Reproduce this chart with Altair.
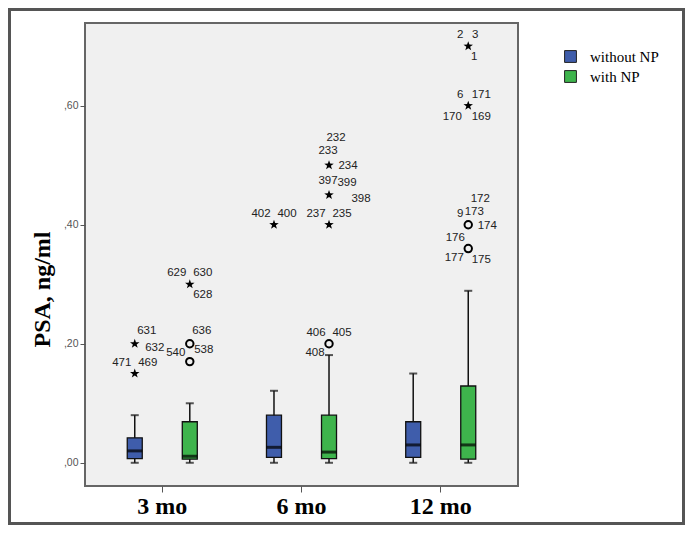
import altair as alt
import pandas as pd

# ---------------- data ----------------
months = ["3 mo", "6 mo", "12 mo"]
groups = ["without NP", "with NP"]
group_colors = ["#3f5dab", "#3eb44c"]

box_month = ["3 mo", "3 mo", "6 mo", "6 mo", "12 mo", "12 mo"]
box_group = ["without NP", "with NP", "without NP", "with NP", "without NP", "with NP"]
whisker_low = [0.000, 0.000, 0.000, 0.000, 0.000, 0.000]
q1 = [0.007, 0.006, 0.009, 0.007, 0.009, 0.006]
median = [0.020, 0.011, 0.026, 0.018, 0.030, 0.030]
q3 = [0.042, 0.069, 0.080, 0.080, 0.069, 0.129]
whisker_high = [0.080, 0.100, 0.121, 0.181, 0.150, 0.289]

out_month = ["3 mo", "3 mo", "3 mo", "3 mo", "3 mo", "6 mo", "6 mo", "6 mo",
             "6 mo", "6 mo", "12 mo", "12 mo", "12 mo", "12 mo"]
out_group = ["without NP", "without NP", "with NP", "with NP", "with NP",
             "without NP", "with NP", "with NP", "with NP", "with NP",
             "with NP", "with NP", "with NP", "with NP"]
out_value = [0.20, 0.15, 0.30, 0.20, 0.17, 0.40, 0.40, 0.45, 0.50, 0.20,
             0.70, 0.60, 0.40, 0.36]
out_kind = ["star", "star", "star", "circle", "circle", "star", "star", "star",
            "star", "circle", "star", "star", "circle", "circle"]

lab_text = ["631", "632", "471", "469", "629", "630", "628", "636", "540", "538",
            "402", "400", "237", "235", "397", "399", "398", "233", "234", "232",
            "406", "405", "408",
            "2", "3", "1", "6", "171", "170", "169",
            "172", "9", "173", "174", "176", "177", "175"]
lab_month = ["3 mo"] * 10 + ["6 mo"] * 13 + ["12 mo"] * 14
lab_group = ["without NP"] * 4 + ["with NP"] * 6 + ["without NP"] * 2 + ["with NP"] * 11 + ["with NP"] * 14
lab_value = [0.20, 0.20, 0.15, 0.15, 0.30, 0.30, 0.30, 0.20, 0.20, 0.20,
             0.40, 0.40, 0.40, 0.40, 0.45, 0.45, 0.45, 0.50, 0.50, 0.50,
             0.20, 0.20, 0.20,
             0.70, 0.70, 0.70, 0.60, 0.60, 0.60, 0.60,
             0.40, 0.40, 0.40, 0.40, 0.36, 0.36, 0.36]
lab_slot = ["urh", "r3", "ul", "ur", "ul", "ur", "lr", "urh", "ll", "r5",
            "ul", "ur", "ul", "ur", "u", "ur2", "rr", "u", "r", "uu",
            "ul", "ur", "ll",
            "ul1", "ur1", "lr1", "ul1", "ur", "ll2", "lr",
            "uu2", "ul1", "ur3", "r", "ul", "ll", "lr"]

# label placement around the outlier symbol (pixels)
slot_offsets = {
    "ul": (-13, -11), "ur": (13, -11), "r": (19, 1), "lr": (13, 11),
    "ll": (-14, 9), "u": (-1, -14), "uu": (7, -27), "rr": (32, 4),
    "ur2": (18, -12), "ul1": (-8, -11), "ur1": (7, -11), "lr1": (6, 11),
    "ll2": (-16, 11), "uu2": (12, -26), "ur3": (6, -13),
    "urh": (12, -13), "r3": (20, 4), "r5": (14, 6),
}

boxes = pd.DataFrame({"month": box_month, "group": box_group, "lo": whisker_low,
                      "q1": q1, "med": median, "q3": q3, "hi": whisker_high})
outs = pd.DataFrame({"month": out_month, "group": out_group, "value": out_value,
                     "kind": out_kind})
labs = pd.DataFrame({"month": lab_month, "group": lab_group, "value": lab_value,
                     "text": lab_text, "slot": lab_slot})

# ---------------- encodings ----------------
ydom = [-0.039, 0.739]
X = alt.X("month:N", sort=months,
          scale=alt.Scale(domain=months, paddingOuter=0.055, paddingInner=0),
          axis=alt.Axis(title=None, labelAngle=0, labelFont="Liberation Serif",
                        labelFontSize=24, labelFontWeight="bold", labelColor="black",
                        tickSize=6, tickColor="#555", tickWidth=1, domain=False,
                        labelPadding=2))
XO = alt.XOffset("group:N", sort=groups,
                 scale=alt.Scale(domain=groups, paddingOuter=0.265, paddingInner=0))


def Y(field):
    return alt.Y(field, scale=alt.Scale(domain=ydom, nice=False, zero=False),
                 axis=alt.Axis(values=[0, 0.2, 0.4, 0.6],
                               labelExpr="replace(format(datum.value, '.2f'), '0.', ',')",
                               grid=False, domain=False, tickSize=5, tickColor="#555",
                               labelColor="#555", labelFont="Liberation Sans",
                               labelFontSize=10.5, labelPadding=2,
                               title="PSA, ng/ml", titleFont="Liberation Serif",
                               titleFontSize=24, titleFontWeight="bold",
                               titleColor="black", titleAngle=270, titleX=-43,
                               titleY=266, titleAlign="center",
                               titleBaseline="middle"))


whisk = alt.Chart(boxes).mark_rule(color="#111", strokeWidth=1.5).encode(
    x=X, xOffset=XO, y=Y("lo:Q"), y2="hi:Q")
cap_lo = alt.Chart(boxes).mark_tick(color="#111", size=8, thickness=2).encode(
    x=X, xOffset=XO, y=Y("lo:Q"))
cap_hi = alt.Chart(boxes).mark_tick(color="#111", size=8, thickness=2).encode(
    x=X, xOffset=XO, y=Y("hi:Q"))
box = alt.Chart(boxes).mark_bar(size=15, stroke="#111", strokeWidth=1.3).encode(
    x=X, xOffset=XO, y=Y("q1:Q"), y2="q3:Q",
    color=alt.Color("group:N", sort=groups,
                    scale=alt.Scale(domain=groups, range=group_colors),
                    legend=alt.Legend(title=None, orient="none", legendX=478,
                                      legendY=26, symbolType="square",
                                      symbolSize=140, symbolStrokeColor="#222",
                                      symbolStrokeWidth=1, symbolOpacity=1,
                                      labelFont="Liberation Serif",
                                      labelFontSize=15, labelColor="black",
                                      rowPadding=3, labelOffset=12)))
med = alt.Chart(boxes).mark_tick(color="black", size=15, thickness=3).encode(
    x=X, xOffset=XO, y=Y("med:Q"))

star_path = ("M0,-1L0.235,-0.324L0.951,-0.309L0.38,0.124L0.588,0.809L0,0.4"
             "L-0.588,0.809L-0.38,0.124L-0.951,-0.309L-0.235,-0.324Z")
stars = alt.Chart(outs).transform_filter(alt.datum.kind == "star").mark_point(
    shape=star_path, filled=True, color="black", size=100, opacity=1).encode(
    x=X, xOffset=XO, y=Y("value:Q"))
circles = alt.Chart(outs).transform_filter(alt.datum.kind == "circle").mark_point(
    shape="circle", filled=False, color="black", size=55, strokeWidth=2,
    opacity=1).encode(x=X, xOffset=XO, y=Y("value:Q"))

label_layers = []
for slot, (dx, dy) in slot_offsets.items():
    label_layers.append(
        alt.Chart(labs).transform_filter(alt.datum.slot == slot).mark_text(
            dx=dx, dy=dy, align="center", baseline="middle",
            font="Liberation Sans", fontSize=11.5, color="#222").encode(
            x=X, xOffset=XO, y=Y("value:Q"), text="text:N"))

frame = alt.Chart(alt.Data(values=[{"a": 1}])).mark_rect(
    fill=None, stroke="#555", strokeWidth=3).encode(
    x=alt.value(-75.5), x2=alt.value(598.5), y=alt.value(-13.5), y2=alt.value(500.5))

chart = alt.layer(whisk, cap_lo, cap_hi, box, med, stars, circles,
                  *label_layers, frame).properties(
    width=433, height=463,
    autosize=alt.AutoSizeParams(type="none"),
    padding={"left": 77, "top": 15, "right": 167, "bottom": 39},
).configure(background="white"
).configure_view(fill="#f0f0f0", stroke="#666666", strokeWidth=2)

chart.save("out.html", embed_options={"renderer": "svg", "actions": False})
